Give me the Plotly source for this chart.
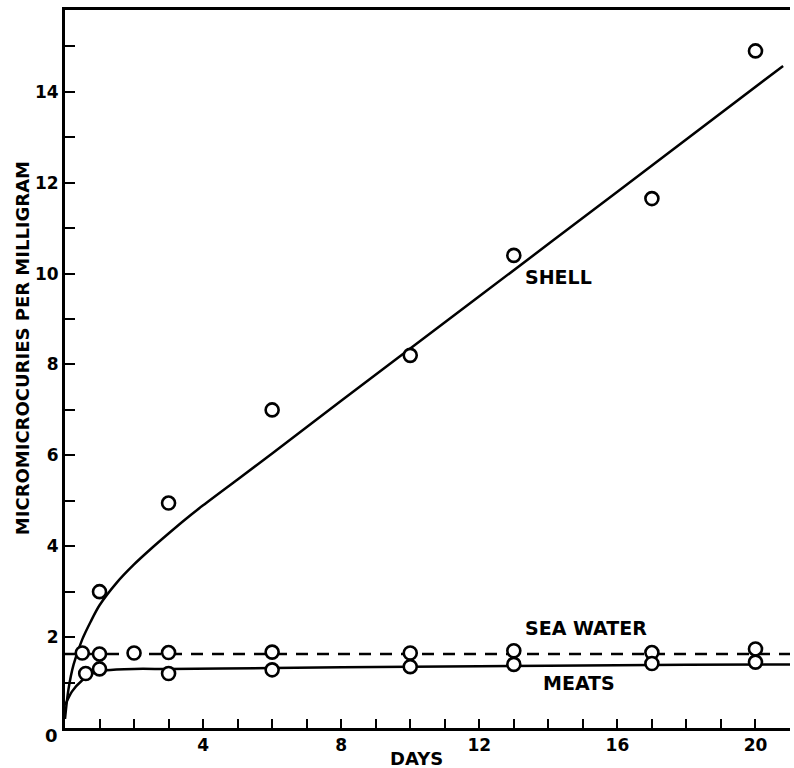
import plotly.graph_objects as go

# ---- data ----
shell_days = [1, 3, 6, 10, 13, 17, 20]
shell_vals = [3.0, 4.95, 7.0, 8.2, 10.4, 11.65, 14.9]

sea_days = [0.5, 1, 2, 3, 6, 10, 13, 17, 20]
sea_vals = [1.65, 1.63, 1.65, 1.66, 1.67, 1.65, 1.7, 1.66, 1.74]

meat_days = [0.6, 1, 3, 6, 10, 13, 17, 20]
meat_vals = [1.2, 1.3, 1.2, 1.28, 1.35, 1.4, 1.42, 1.45]

# fitted curves as drawn
shell_fit_x = [0, 0.1, 0.25, 0.5, 0.75, 1, 1.5, 2, 2.5, 3, 3.5, 4, 5, 6, 8, 12, 16, 20.8]
shell_fit_y = [0.2, 0.85, 1.4, 1.95, 2.35, 2.7, 3.2, 3.6, 3.95, 4.28, 4.6, 4.9, 5.47, 6.04, 7.2, 9.5, 11.8, 14.57]

meat_fit_x = [0, 0.2, 0.5, 0.8, 1.2, 2, 3, 6, 10, 14, 18, 21]
meat_fit_y = [0.5, 0.8, 1.05, 1.2, 1.27, 1.3, 1.3, 1.32, 1.35, 1.37, 1.39, 1.4]

sea_fit_x = [0, 21]
sea_fit_y = [1.63, 1.63]

x_ticks = [4, 8, 12, 16, 20]
y_ticks = [2, 4, 6, 8, 10, 12, 14]

FONT = "DejaVu Sans"

fig = go.Figure()

fig.add_trace(go.Scatter(x=shell_fit_x, y=shell_fit_y, mode="lines",
                         line=dict(color="black", width=2.5, shape="spline", smoothing=0.8),
                         showlegend=False, hoverinfo="skip"))
fig.add_trace(go.Scatter(x=meat_fit_x, y=meat_fit_y, mode="lines",
                         line=dict(color="black", width=2.5, shape="spline", smoothing=0.6),
                         showlegend=False, hoverinfo="skip"))
fig.add_trace(go.Scatter(x=sea_fit_x, y=sea_fit_y, mode="lines",
                         line=dict(color="black", width=2.5, dash="12px,9px"),
                         showlegend=False, hoverinfo="skip"))

marker = dict(symbol="circle", size=13, color="white", line=dict(color="black", width=2.6))
for xs, ys in [(shell_days, shell_vals), (sea_days, sea_vals), (meat_days, meat_vals)]:
    fig.add_trace(go.Scatter(x=xs, y=ys, mode="markers", marker=marker,
                             showlegend=False, cliponaxis=False))

tick_font = dict(family=FONT, size=17, color="black", weight="bold")

fig.update_xaxes(range=[0, 21], showgrid=False, zeroline=False,
                 showline=True, linecolor="black", linewidth=3, mirror=True,
                 tickvals=x_ticks, ticks="inside", ticklen=9, tickwidth=2, tickcolor="black",
                 minor=dict(dtick=1, tick0=0, ticks="inside", ticklen=9, tickwidth=2, tickcolor="black"),
                 tickfont=tick_font)
fig.update_yaxes(range=[0, 15.8], showgrid=False, zeroline=False,
                 showline=True, linecolor="black", linewidth=3, mirror=False,
                 tickvals=y_ticks, ticks="inside", ticklen=10, tickwidth=2, tickcolor="black",
                 minor=dict(dtick=1, tick0=0, ticks="inside", ticklen=10, tickwidth=2, tickcolor="black"),
                 tickfont=tick_font)

lab_font = dict(family=FONT, size=19, color="black", weight="bold")
# curve labels (data coordinates)
for a in [dict(x=14.3, y=9.93, text="SHELL"),
          dict(x=15.1, y=2.2, text="SEA WATER"),
          dict(x=14.9, y=0.99, text="MEATS")]:
    fig.add_annotation(xref="x", yref="y", showarrow=False, font=lab_font,
                       xanchor="center", yanchor="middle", **a)

# origin label and axis titles (paper coordinates, outside the plot area)
title_font = dict(family=FONT, size=18, color="black", weight="bold")
fig.add_annotation(xref="paper", yref="paper", x=-0.018, y=-0.0098, text="0",
                   xanchor="center", yanchor="middle", showarrow=False, font=title_font)
fig.add_annotation(xref="paper", yref="paper", x=0.4855, y=-0.0418, text="DAYS",
                   xanchor="center", yanchor="middle", showarrow=False, font=title_font)
fig.add_annotation(xref="paper", yref="paper", x=-0.0593, y=0.529, textangle=-90,
                   text="MICROMICROCURIES PER MILLIGRAM",
                   xanchor="center", yanchor="middle", showarrow=False, font=title_font)

fig.update_layout(width=794, height=768,
                  margin=dict(l=65, r=4, t=10, b=40),
                  paper_bgcolor="white", plot_bgcolor="white")

fig.write_html("out.html")
